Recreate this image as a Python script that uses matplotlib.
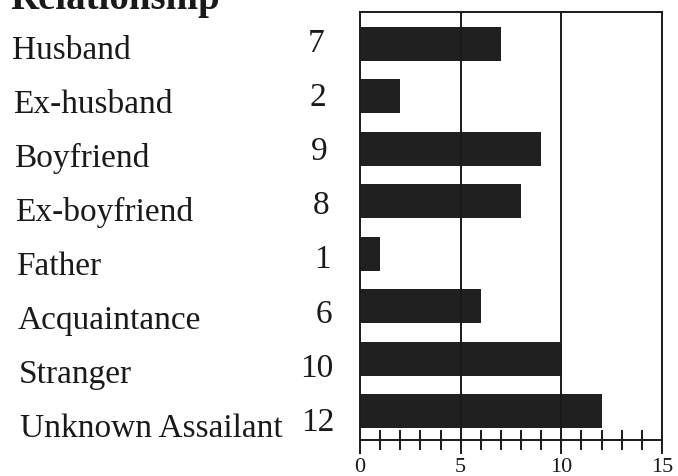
import matplotlib
matplotlib.use("Agg")
import matplotlib.pyplot as plt
from matplotlib.ticker import MultipleLocator
from matplotlib.transforms import blended_transform_factory

relationships = [
    "Husband",
    "Ex-husband",
    "Boyfriend",
    "Ex-boyfriend",
    "Father",
    "Acquaintance",
    "Stranger",
    "Unknown Assailant",
]
counts = [7, 2, 9, 8, 1, 6, 10, 12]
x_ticks = [0, 5, 10, 15]

plt.rcParams["font.family"] = ["Liberation Serif", "DejaVu Serif"]
INK = "#1a1a1a"

W, H = 678, 476
fig = plt.figure(figsize=(W / 100, H / 100), dpi=100)
ax = fig.add_axes([360 / W, 1 - 440 / H, (662 - 360) / W, (440 - 12) / H])

ypos = list(range(len(relationships)))
ax.barh(ypos, counts, height=0.65, color="#202020")

ax.set_xlim(0, 15)
ax.set_ylim(7.55, -0.61)
for v in (5, 10):
    ax.axvline(v, color=INK, lw=1.4)

for side in ("left", "right", "top", "bottom"):
    ax.spines[side].set_linewidth(1.4)
    ax.spines[side].set_color(INK)

ax.set_yticks([])
ax.set_xticks(x_ticks)
ax.xaxis.set_minor_locator(MultipleLocator(1))
ax.tick_params(axis="x", which="major", direction="out", length=10, width=1.4,
               labelsize=16, pad=3, colors=INK)
ax.tick_params(axis="x", which="minor", direction="inout", length=14, width=1.4,
               colors=INK)

# row labels and counts sit to the left of the plot box
tr = blended_transform_factory(fig.transFigure, ax.transData)
for i, (name, n) in enumerate(zip(relationships, counts)):
    ax.text((12 + 1.1 * i) / W, 0.28 + 1.03 * i, name, transform=tr,
            fontsize=24, ha="left", va="baseline", color=INK)
    ax.text((325 + 1.4 * i) / W, 0.16 + 1.03 * i, str(n), transform=tr,
            fontsize=24, ha="right", va="baseline", color=INK)

fig.text(10 / W, 1 - 9 / H, "Relationship", fontsize=28, fontweight="bold",
         ha="left", va="baseline", color=INK)

fig.savefig("out.png", dpi=100)
